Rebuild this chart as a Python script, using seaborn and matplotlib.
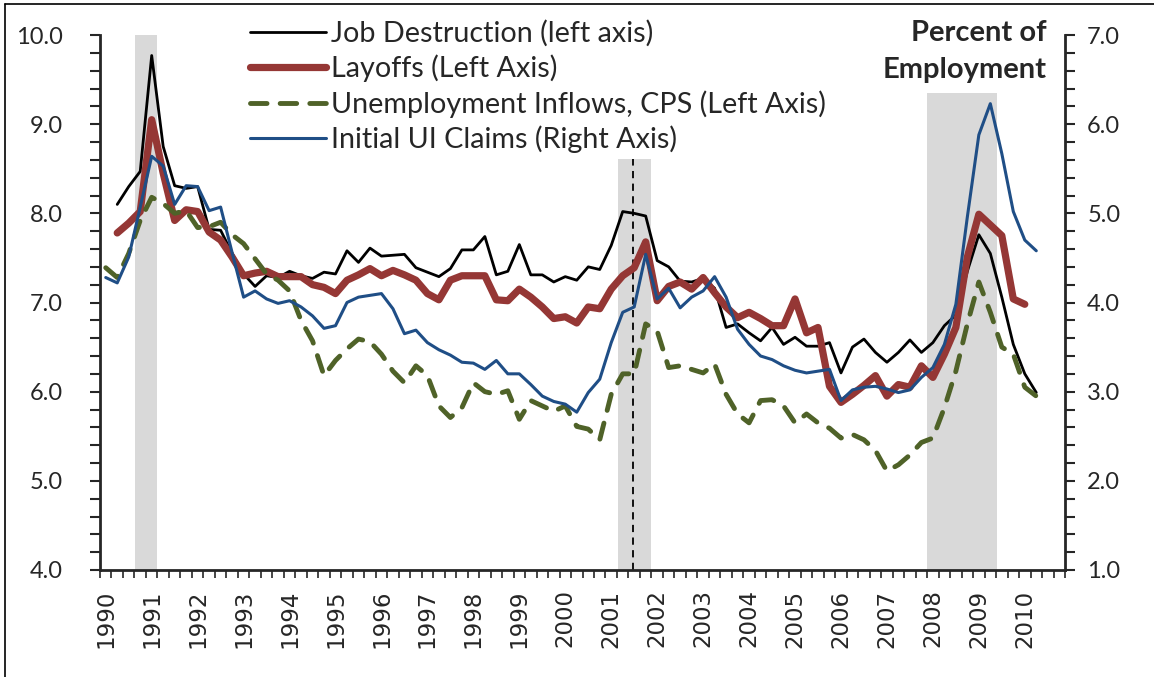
import numpy as np
import pandas as pd
import matplotlib
matplotlib.use("Agg")
import matplotlib.pyplot as plt
import seaborn as sns
from matplotlib.lines import Line2D
from matplotlib.ticker import MultipleLocator, FormatStrFormatter

nan = np.nan

# quarterly data, 1990Q1 - 2010Q4
quarters = [f"{y}Q{q}" for y in range(1990, 2011) for q in range(1, 5)]
year_labels = [str(y) for y in range(1990, 2011)]

# percent of employment, left axis
job_destruction = [
    nan, 8.10, 8.30, 8.47, 9.77, 8.75, 8.31, 8.28, 8.30, 7.82, 7.81, 7.55,
    7.32, 7.18, 7.30, 7.28, 7.35, 7.30, 7.27, 7.34, 7.32, 7.58, 7.45, 7.61,
    7.52, 7.53, 7.54, 7.39, 7.34, 7.29, 7.38, 7.59, 7.59, 7.74, 7.31, 7.35,
    7.65, 7.31, 7.31, 7.23, 7.29, 7.25, 7.40, 7.37, 7.64, 8.02, 8.00, 7.97,
    7.47, 7.40, 7.24, 7.23, 7.27, 7.16, 6.72, 6.76, 6.66, 6.57, 6.72, 6.53,
    6.61, 6.51, 6.51, 6.55, 6.21, 6.50, 6.59, 6.44, 6.33, 6.44, 6.58, 6.44,
    6.55, 6.74, 6.86, 7.35, 7.76, 7.55, 7.06, 6.53, 6.20, 5.99, nan, nan,
]
layoffs = [
    nan, 7.78, 7.89, 8.02, 9.05, 8.45, 7.92, 8.04, 8.02, 7.79, 7.70, 7.51,
    7.30, 7.33, 7.35, 7.29, 7.29, 7.29, 7.20, 7.17, 7.10, 7.25, 7.31, 7.38,
    7.30, 7.36, 7.31, 7.25, 7.10, 7.03, 7.25, 7.30, 7.30, 7.30, 7.03, 7.02,
    7.15, 7.06, 6.95, 6.82, 6.84, 6.77, 6.95, 6.93, 7.15, 7.30, 7.39, 7.68,
    7.02, 7.18, 7.23, 7.15, 7.28, 7.11, 6.95, 6.83, 6.89, 6.82, 6.74, 6.74,
    7.04, 6.66, 6.72, 6.06, 5.88, 5.97, 6.07, 6.18, 5.95, 6.08, 6.05, 6.29,
    6.16, 6.42, 6.72, 7.51, 7.99, 7.87, 7.75, 7.04, 6.98, nan, nan, nan,
]
unemp_inflows = [
    7.39, 7.28, 7.55, 7.92, 8.18, 8.11, 8.00, 8.03, 7.84, 7.85, 7.90, 7.76,
    7.66, 7.49, 7.32, 7.25, 7.13, 6.80, 6.57, 6.18, 6.35, 6.48, 6.59, 6.56,
    6.42, 6.23, 6.10, 6.29, 6.18, 5.84, 5.71, 5.82, 6.10, 6.00, 5.97, 6.01,
    5.69, 5.90, 5.84, 5.78, 5.84, 5.61, 5.58, 5.46, 5.97, 6.20, 6.20, 6.76,
    6.68, 6.27, 6.29, 6.25, 6.21, 6.31, 5.97, 5.75, 5.65, 5.90, 5.91, 5.84,
    5.65, 5.75, 5.65, 5.59, 5.48, 5.52, 5.46, 5.34, 5.11, 5.18, 5.29, 5.43,
    5.48, 5.82, 6.23, 6.76, 7.23, 6.89, 6.50, 6.42, 6.05, 5.95, nan, nan,
]
# right axis
ui_claims = [
    4.28, 4.22, 4.51, 5.07, 5.64, 5.53, 5.10, 5.31, 5.30, 5.03, 5.07, 4.56,
    4.06, 4.13, 4.04, 3.99, 4.02, 3.95, 3.85, 3.71, 3.74, 4.00, 4.06, 4.08,
    4.10, 3.93, 3.65, 3.69, 3.55, 3.47, 3.41, 3.33, 3.32, 3.25, 3.35, 3.20,
    3.20, 3.08, 2.95, 2.89, 2.86, 2.77, 2.99, 3.14, 3.55, 3.89, 3.95, 4.54,
    4.04, 4.16, 3.94, 4.06, 4.13, 4.29, 4.06, 3.70, 3.53, 3.40, 3.36, 3.29,
    3.24, 3.21, 3.23, 3.25, 2.90, 3.02, 3.05, 3.06, 3.03, 2.99, 3.02, 3.16,
    3.27, 3.53, 3.98, 4.96, 5.88, 6.23, 5.67, 5.02, 4.70, 4.58, nan, nan,
]

# recessions, in quarter positions
rec_start = [2.55, 44.6, 71.5]
rec_end = [4.46, 47.5, 77.6]
rec_top = [10.0, 8.61, 9.35]
peak_2001 = 45.9

df = pd.DataFrame({
    "q": np.arange(len(quarters)),
    "quarter": quarters,
    "jd": job_destruction,
    "layoffs": layoffs,
    "inflows": unemp_inflows,
    "claims": ui_claims,
})

sns.set_style("ticks")
plt.rcParams['font.family'] = ['Lato', 'DejaVu Sans']

W, H = 1154, 677
fig = plt.figure(figsize=(W / 100, H / 100), dpi=100)
ax = fig.add_axes([100 / W, 1 - 570 / H, 965 / W, 535 / H])
ax2 = ax.twinx()

# recession shading
for s, e, t in zip(rec_start, rec_end, rec_top):
    ax.axvspan(s, e, ymin=0, ymax=(t - 4) / 6, color='#D9D9D9', lw=0, zorder=0)
ax.plot([peak_2001, peak_2001], [4, rec_top[1]], color='black', lw=1.3,
        ls=(0, (4, 3)), zorder=1)

red = '#953735'
green = '#4F6228'
blue = '#1F4E86'
green_dash = (0, (3.4, 2.7))

sns.lineplot(data=df, x='q', y='jd', ax=ax, color='black', lw=2.0, legend=False)
sns.lineplot(data=df, x='q', y='layoffs', ax=ax, color=red, lw=5.2, legend=False)
sns.lineplot(data=df, x='q', y='inflows', ax=ax, color=green, lw=3.5,
             dashes=False, legend=False)
ax.lines[-1].set_linestyle(green_dash)
ax.lines[-1].set_dash_capstyle('round')
sns.lineplot(data=df, x='q', y='claims', ax=ax2, color=blue, lw=2.2, legend=False)

# axes
ax.set_xlim(-0.5, len(quarters) - 0.5)
ax.set_ylim(4, 10)
ax2.set_ylim(1, 7)
ax.set_xlabel('')
ax.set_ylabel('')
ax2.set_ylabel('')

ax.set_xticks(np.arange(0, len(quarters), 4))
ax.set_xticklabels(year_labels, rotation=90, fontsize=16.5, family='DejaVu Sans')
ax.set_xticks(np.arange(-0.5, len(quarters), 1), minor=True)
ax.tick_params(axis='x', which='major', length=0, pad=14)
ax.tick_params(axis='x', which='minor', length=6, width=1.2, direction='out')

for a, p in ((ax, 20), (ax2, 9)):
    a.yaxis.set_major_locator(MultipleLocator(1))
    a.yaxis.set_minor_locator(MultipleLocator(0.2))
    a.yaxis.set_major_formatter(FormatStrFormatter('%.1f'))
    a.tick_params(axis='y', which='both', length=7, width=1.5, direction='out',
                  labelsize=17, pad=p)
    a.spines['top'].set_visible(False)

for side in ('left', 'bottom'):
    ax.spines[side].set_linewidth(2)
    ax2.spines[side].set_visible(False)
ax.spines['right'].set_visible(False)
ax2.spines['right'].set_linewidth(2)

# legend
handles = [
    Line2D([], [], color='black', lw=2.0),
    Line2D([], [], color=red, lw=5.2),
    Line2D([], [], color=green, lw=3.5, ls=green_dash, dash_capstyle='round'),
    Line2D([], [], color=blue, lw=2.2),
]
labels = [
    'Job Destruction (left axis)',
    'Layoffs (Left Axis)',
    'Unemployment Inflows, CPS (Left Axis)',
    'Initial UI Claims (Right Axis)',
]
fig.legend(handles, labels, loc='upper left', bbox_to_anchor=(250 / W, 1 - 20 / H),
           frameon=False, fontsize=20.7, handlelength=2.65, handletextpad=0.18,
           labelspacing=0.27, borderpad=0, borderaxespad=0)

fig.text(1047 / W, 1 - 20 / H, 'Percent of\nEmployment', ha='right', va='top',
         fontsize=21, fontweight='bold', linespacing=1.52)

# frame lines around the chart
fig.add_artist(Line2D([5 / W, 1], [1 - 4 / H, 1 - 4 / H], color='black', lw=1.2))
fig.add_artist(Line2D([5 / W, 5 / W], [0, 1 - 4 / H], color='black', lw=1.2))

fig.savefig('out.png', dpi=100)
